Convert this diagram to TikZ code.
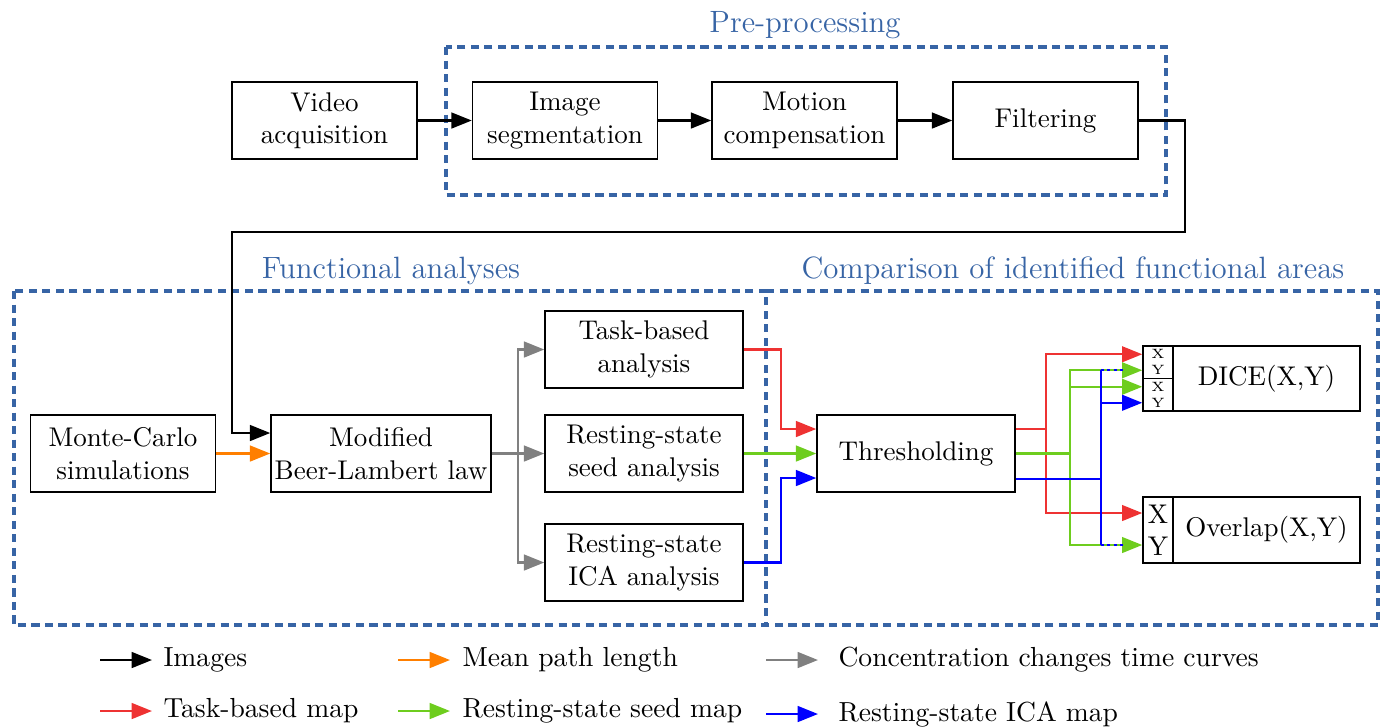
\documentclass[tikz,border=0pt]{standalone}
\usetikzlibrary{arrows.meta,calc}

\definecolor{grpblue}{RGB}{55,100,165}
\definecolor{taskred}{RGB}{238,50,50}
\definecolor{seedgreen}{RGB}{110,205,30}
\definecolor{icablue}{RGB}{0,0,255}
\definecolor{mplorange}{RGB}{255,127,0}
\definecolor{concgray}{RGB}{128,128,128}

\tikzset{
  >={Triangle[length=7.5pt,width=5.8pt]},
  box/.style={draw, line width=0.55pt, inner sep=0pt, align=center,
    minimum width=2.405cm, minimum height=1.0cm},
  cell/.style={draw, line width=0.55pt, inner sep=0pt, align=center,
    minimum width=0.39cm},
  group/.style={draw=grpblue, line width=1.4pt, dash pattern=on 3pt off 2pt},
  grptitle/.style={text=grpblue, font=\fontsize{11.4}{13}\selectfont},
  img/.style={line width=0.85pt, black},
  mpl/.style={line width=0.85pt, mplorange},
  conc/.style={line width=0.85pt, concgray},
  taskmap/.style={line width=0.85pt, taskred},
  seedmap/.style={line width=0.85pt, seedgreen},
  icamap/.style={line width=0.85pt, icablue},
  legtext/.style={anchor=west, inner sep=0pt, font=\fontsize{10.2}{12}\selectfont}
}

\begin{document}
\begin{tikzpicture}[x=0.013cm, y=-0.013cm]
  \useasboundingbox (0,0) rectangle (1391,726);

  % Groups
  \draw[group] (446,47) rectangle (1166,195);
  \draw[group] (14,291) rectangle (766,625);
  \draw[group] (766,291) -- (1378,291) -- (1378,625) -- (766,625);
  \node[grptitle] (tpre) at (805,25) {Pre-processing};
  \node[grptitle] (tfun) at (391,271) {Functional analyses};
  \node[grptitle] (tcmp) at (1073,271) {Comparison of identified functional areas};

  % Pre-processing chain
  \node[box] (vid) at (324.5,120.5) {Video\\acquisition};
  \node[box] (seg) at (565,120.5) {Image\\segmentation};
  \node[box] (mot) at (804.5,120.5) {Motion\\compensation};
  \node[box] (filt) at (1045.5,120.5) {Filtering};

  % Functional analyses
  \node[box] (mc) at (123,453.5) {Monte-Carlo\\simulations};
  \node[box, minimum width=2.86cm] (mbl) at (381,453.5) {Modified\\Beer-Lambert law};
  \node[box, minimum width=2.574cm] (task) at (644,349.5) {Task-based\\analysis};
  \node[box, minimum width=2.574cm] (seed) at (644,453.5) {Resting-state\\seed analysis};
  \node[box, minimum width=2.574cm] (ica) at (644,562.5) {Resting-state\\ICA analysis};

  % Comparison
  \node[box, minimum width=2.574cm] (thr) at (916,453.5) {Thresholding};
  \node[box, minimum width=2.431cm, minimum height=0.845cm] (dice) at (1266.5,378.5) {DICE(X,Y)};
  \node[cell, minimum height=0.4225cm, font=\fontsize{5}{6}\selectfont] (dca) at (1158,362.25) {X\\Y};
  \node[cell, minimum height=0.4225cm, font=\fontsize{5}{6}\selectfont] (dcb) at (1158,394.75) {X\\Y};
  \node[box, minimum width=2.431cm, minimum height=0.858cm] (ovl) at (1266.5,530) {Overlap(X,Y)};
  \node[cell, minimum height=0.858cm, font=\fontsize{10}{12}\selectfont] (ovc) at (1158,530) {X\\Y};

  % Images
  \draw[img,->] (vid) -- (seg);
  \draw[img,->] (seg) -- (mot);
  \draw[img,->] (mot) -- (filt);
  \coordinate (w1) at (1185,232);
  \coordinate (w2) at (232,232);
  \draw[img,->] (filt.east) -| (w1) -- (w2) |- ($(mbl.west)+(0,-20.5)$);

  % Mean path length
  \draw[mpl,->] (mc.east) -- (mbl.west);

  % Concentration changes
  \coordinate (gb) at (518,453.5);
  \draw[conc] (mbl.east) -- (gb);
  \draw[conc,->] (gb) |- (task.west);
  \draw[conc,->] (gb) -- (seed.west);
  \draw[conc,->] (gb) |- (ica.west);

  % Maps to thresholding
  \draw[taskmap,->] (task.east) -- ++(37,0) |- ($(thr.west)+(0,-24.5)$);
  \draw[seedmap,->] (seed.east) -- (thr.west);
  \draw[icamap,->] (ica.east) -- ++(37,0) |- ($(thr.west)+(0,24.5)$);

  % Thresholded maps to comparisons
  \coordinate (rb) at ($(thr.east)+(30,-24.5)$);
  \coordinate (gr) at ($(thr.east)+(54,0)$);
  \coordinate (bb) at ($(thr.east)+(85,25.5)$);
  \draw[taskmap] ($(thr.east)+(0,-24.5)$) -- (rb);
  \draw[taskmap,->] (rb) |- ($(dca.west)+(0,-8)$);
  \draw[taskmap,->] (rb) |- ($(ovc.west)+(0,-17)$);
  \draw[seedmap] (thr.east) -- (gr);
  \draw[seedmap,->] (gr) |- ($(dca.west)+(0,8)$);
  \draw[seedmap,->] (gr) |- ($(dcb.west)+(0,-8)$);
  \draw[seedmap,->] (gr) |- ($(ovc.west)+(0,15)$);
  \draw[icamap] ($(thr.east)+(0,25.5)$) -- (bb);
  \draw[icamap] ($(bb |- dca.west)+(0,8)$) -- ($(bb |- ovc.west)+(0,15)$);
  \draw[icamap,->] (bb) |- ($(dcb.west)+(0,8)$);
  \draw[icamap, dash pattern=on 1.2pt off 1.2pt] ($(bb |- dca.west)+(0,8)$) -- ++(22,0);
  \draw[icamap, dash pattern=on 1.2pt off 1.2pt] ($(bb |- ovc.west)+(0,15)$) -- ++(22,0);

  % Legend
  \foreach \nm/\sty/\x/\t/\y/\txt in {
      limg/img/100/163/660/Images,
      lmpl/mpl/398/462/660/Mean path length,
      lconc/conc/766/838/660/Concentration changes time curves,
      ltask/taskmap/100/163/711/Task-based map,
      lseed/seedmap/398/462/711/Resting-state seed map,
      lica/icamap/766/838/714/Resting-state ICA map} {
    \node[legtext] (\nm) at (\t,\y) {\txt};
    \draw[\sty,->] (\x,\y) -- ++(52,0);
  }
\end{tikzpicture}
\end{document}
